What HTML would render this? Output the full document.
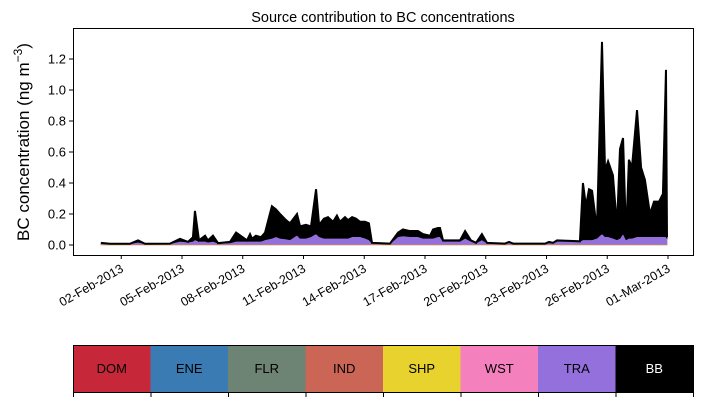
<!DOCTYPE html>
<html><head><meta charset="utf-8"><style>
body{margin:0;background:#fff;font-family:"Liberation Sans",sans-serif}
svg{display:block}
</style></head><body>
<svg id="c" width="703" height="402" xmlns="http://www.w3.org/2000/svg" font-family="Liberation Sans, sans-serif"></svg>
<script>
const days=[1.00,1.44,2.43,2.83,3.17,4.41,4.90,5.30,5.54,5.64,5.84,6.14,6.28,6.53,6.78,7.37,7.67,8.21,8.36,8.46,8.65,8.90,9.10,9.44,9.64,9.84,10.14,10.33,10.68,10.83,11.12,11.37,11.62,11.77,12.01,12.21,12.46,12.65,12.80,13.05,13.20,13.40,13.59,13.79,14.04,14.23,14.38,15.27,15.67,15.91,16.26,16.65,16.90,17.25,17.40,17.64,17.74,17.89,18.73,18.98,19.27,19.52,19.81,20.06,20.95,21.15,21.35,22.93,23.12,23.32,23.52,24.65,24.80,24.95,25.10,25.25,25.49,25.74,25.89,26.04,26.28,26.48,26.63,26.78,26.93,27.07,27.22,27.47,27.67,27.86,28.11,28.31,28.56,28.75,28.90,28.95];
const totalBC=[0.013,0.005,0.005,0.03,0.005,0.005,0.04,0.02,0.05,0.22,0.03,0.06,0.03,0.06,0.01,0.02,0.08,0.03,0.07,0.04,0.06,0.05,0.08,0.25,0.23,0.2,0.16,0.14,0.2,0.12,0.13,0.12,0.36,0.13,0.17,0.18,0.15,0.19,0.15,0.18,0.16,0.18,0.17,0.15,0.15,0.14,0.01,0.005,0.08,0.1,0.09,0.09,0.07,0.06,0.1,0.11,0.11,0.03,0.03,0.09,0.03,0.01,0.07,0.01,0.005,0.02,0.005,0.005,0.02,0.01,0.03,0.02,0.4,0.25,0.36,0.35,0.1,1.31,0.48,0.54,0.45,0.12,0.62,0.69,0.05,0.55,0.5,0.87,0.5,0.42,0.2,0.28,0.28,0.33,1.13,0.05];
const traBC=[0.01,0.004,0.004,0.015,0.004,0.005,0.02,0.015,0.02,0.03,0.02,0.02,0.015,0.02,0.008,0.01,0.02,0.02,0.02,0.02,0.02,0.02,0.03,0.04,0.05,0.04,0.035,0.03,0.06,0.04,0.04,0.05,0.07,0.05,0.04,0.04,0.04,0.04,0.04,0.04,0.04,0.05,0.05,0.05,0.04,0.03,0.01,0.005,0.05,0.055,0.05,0.05,0.04,0.04,0.04,0.05,0.05,0.02,0.02,0.04,0.02,0.01,0.03,0.01,0.005,0.015,0.005,0.005,0.01,0.01,0.02,0.02,0.03,0.03,0.03,0.03,0.04,0.07,0.05,0.05,0.04,0.03,0.04,0.07,0.03,0.04,0.04,0.05,0.05,0.05,0.05,0.05,0.05,0.05,0.05,0.04];
const shpBC=0.004;
const yTicks=[0.0,0.2,0.4,0.6,0.8,1.0,1.2];
const xTickDays=[2,5,8,11,14,17,20,23,26,29];
const xTickLabels=["02-Feb-2013","05-Feb-2013","08-Feb-2013","11-Feb-2013","14-Feb-2013","17-Feb-2013","20-Feb-2013","23-Feb-2013","26-Feb-2013","01-Mar-2013"];
const sources=["DOM","ENE","FLR","IND","SHP","WST","TRA","BB"];
const srcColors=["#c6283a","#3a7bb4","#6d8373","#cb6657","#e8d22e","#f580be","#9370db","#000000"];

const svgEl=document.getElementById('c');const NS="http://www.w3.org/2000/svg";
function mk(t,a){const e=document.createElementNS(NS,t);for(const k in a)e.setAttribute(k,a[k]);svgEl.appendChild(e);return e;}
const X=d=>101+(d-1)*20.25, Y=v=>245-155*v;
const N=Math.min(days.length,totalBC.length,traBC.length);
const dd=days.slice(0,N);
function area(lo,hi,col,name){let d="M"+X(dd[0])+","+Y(hi[0]);for(let i=1;i<N;i++)d+="L"+X(dd[i])+","+Y(hi[i]);for(let i=N-1;i>=0;i--)d+="L"+X(dd[i])+","+Y(lo[i]);d+="Z";const p=mk('path',{d:d,fill:col,stroke:col,'stroke-width':0.8});return p;}
const zero=dd.map(()=>0), shp=dd.map(()=>shpBC), tra=dd.map((_,i)=>traBC[i]+shpBC), tot=dd.map((_,i)=>Math.max(totalBC[i],tra[i]));
area(zero,shp,"#e8a02e","area-shp");
area(shp,tra,"#9370db","area-tra");
area(tra,tot,"#000","area-bb");
let topPath="M"+X(dd[0])+","+Y(tot[0]);for(let i=1;i<N;i++)topPath+="L"+X(dd[i])+","+Y(tot[i]);
const tl=mk('path',{d:topPath,fill:'none',stroke:'#000','stroke-width':2});


const fr=mk('rect',{x:73.5,y:28.5,width:620,height:227,fill:'none',stroke:'#000','stroke-width':1});


yTicks.forEach(v=>{const y=Y(v);const l=mk('line',{x1:69,x2:73,y1:y,y2:y,stroke:'#000'});


const t=mk('text',{x:66,y:y+4.5,'text-anchor':'end','font-size':13});t.textContent=v.toFixed(1);

});
xTickDays.forEach((d,i)=>{const x=X(d);const l=mk('line',{x1:x,x2:x,y1:255,y2:259,stroke:'#000'});


const t=mk('text',{x:x+3,y:271,'text-anchor':'end','font-size':12.5,transform:`rotate(-30 ${x+3} 271)`});t.textContent=xTickLabels[i];

});
const ti=mk('text',{x:383,y:22,'text-anchor':'middle','font-size':14.5});ti.textContent="Source contribution to BC concentrations";


const yt=mk('text',{x:29,y:142,'text-anchor':'middle','font-size':17,transform:'rotate(-90 29 142)'});
yt.innerHTML='BC concentration (ng m<tspan dy="-7" font-size="12">−3</tspan><tspan dy="7">)</tspan>';


const w=620/sources.length;
sources.forEach((s,i)=>{const x=73+i*w;const r=mk('rect',{x:x,y:345,width:w+0.5,height:47,fill:srcColors[i]});


const t=mk('text',{x:x+w/2,y:373,'text-anchor':'middle','font-size':13,fill:s==="BB"?"#fff":"#000"});t.textContent=s;

});
const lb=mk('rect',{x:73.5,y:345.5,width:620,height:47,fill:'none',stroke:'#000'});


for(let i=0;i<=sources.length;i++){const x=73.5+i*w;const l=mk('line',{x1:x,x2:x,y1:392,y2:397,stroke:'#000'});

}
</script>
</body></html>
